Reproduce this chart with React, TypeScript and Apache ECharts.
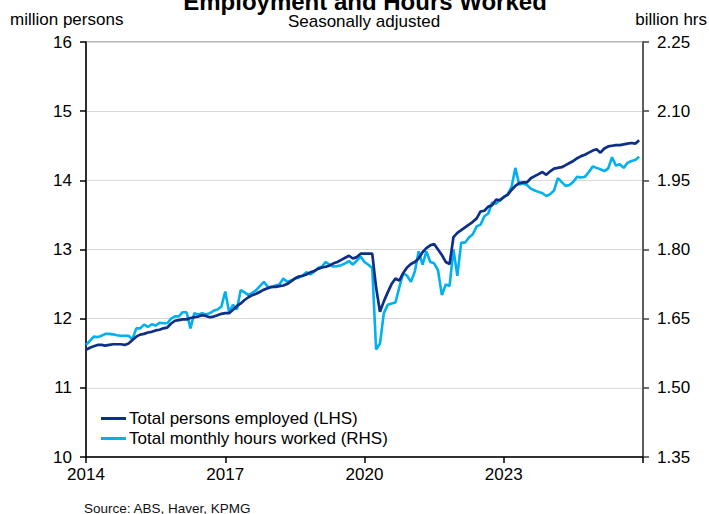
import React, { useEffect, useRef } from "react";
import * as echarts from "echarts";

// Monthly data, Jan 2014 .. Dec 2025
const xTickLabels = ["2014", "2017", "2020", "2023"];
const leftTicks = [10, 11, 12, 13, 14, 15, 16];
const rightTicks = ["1.35", "1.50", "1.65", "1.80", "1.95", "2.10", "2.25"];

// Total persons employed (million, LHS)
const employed: number[] = [
  11.55, 11.58, 11.6, 11.62, 11.62, 11.61, 11.62, 11.63, 11.63, 11.63, 11.62, 11.64,
  11.69, 11.74, 11.77, 11.78, 11.8, 11.81, 11.83, 11.84, 11.86, 11.87, 11.93, 11.97,
  11.98, 11.99, 11.99, 12.01, 12.02, 12.03, 12.05, 12.04, 12.02, 12.03, 12.05, 12.07,
  12.08, 12.08, 12.13, 12.18, 12.22, 12.27, 12.31, 12.34, 12.36, 12.39, 12.42, 12.44,
  12.46, 12.46, 12.47, 12.48, 12.5, 12.54, 12.58, 12.61, 12.62, 12.64, 12.67, 12.69,
  12.72, 12.74, 12.75, 12.77, 12.8, 12.82, 12.85, 12.88, 12.91, 12.87, 12.89, 12.94,
  12.94, 12.94, 12.94, 12.45, 12.1, 12.25, 12.38, 12.5, 12.58, 12.55, 12.66, 12.74,
  12.79, 12.82, 12.87, 12.96, 13.02, 13.06, 13.08, 13.0, 12.92, 12.82, 12.79, 13.18,
  13.24, 13.28, 13.32, 13.36, 13.4, 13.45, 13.55, 13.56, 13.62, 13.64, 13.72, 13.71,
  13.76, 13.79, 13.86, 13.92, 13.96, 13.97, 13.97, 14.03, 14.06, 14.09, 14.12, 14.08,
  14.13, 14.17, 14.18, 14.19, 14.22, 14.25, 14.28, 14.32, 14.35, 14.37, 14.4, 14.43,
  14.45, 14.4, 14.46, 14.49, 14.5, 14.51, 14.51, 14.52, 14.53, 14.54, 14.53, 14.58,
];

// Total monthly hours worked (billion hours, RHS)
const hours: number[] = [
  1.593, 1.602, 1.611, 1.61, 1.613, 1.617, 1.617, 1.616, 1.614, 1.613, 1.613, 1.613,
  1.605, 1.629, 1.629, 1.637, 1.632, 1.638, 1.635, 1.641, 1.64, 1.64, 1.65, 1.655,
  1.655, 1.664, 1.664, 1.629, 1.662, 1.659, 1.662, 1.659, 1.662, 1.667, 1.67, 1.676,
  1.709, 1.664, 1.68, 1.67, 1.712, 1.707, 1.701, 1.706, 1.712, 1.721, 1.73, 1.719,
  1.718, 1.722, 1.724, 1.737, 1.73, 1.733, 1.737, 1.739, 1.743, 1.751, 1.746, 1.752,
  1.76, 1.763, 1.773, 1.767, 1.763, 1.764, 1.766, 1.77, 1.775, 1.767, 1.776, 1.785,
  1.773, 1.767, 1.76, 1.583, 1.596, 1.662, 1.68, 1.683, 1.685, 1.718, 1.749, 1.743,
  1.73, 1.752, 1.796, 1.767, 1.796, 1.773, 1.77, 1.755, 1.701, 1.724, 1.721, 1.8,
  1.743, 1.815, 1.815, 1.826, 1.833, 1.85, 1.854, 1.872, 1.878, 1.902, 1.899, 1.908,
  1.913, 1.92, 1.935, 1.977, 1.941, 1.943, 1.94, 1.932, 1.928, 1.925, 1.922, 1.916,
  1.92, 1.928, 1.955, 1.946, 1.938, 1.94, 1.947, 1.958, 1.956, 1.958, 1.968, 1.98,
  1.977, 1.974, 1.97, 1.976, 2.0, 1.982, 1.985, 1.977, 1.988, 1.992, 1.994, 2.001,
];

const seriesNames = ["Total persons employed (LHS)", "Total monthly hours worked (RHS)"];
const colors = ["#0D2F87", "#00B0F0"];
const FONT = "'Liberation Sans', Arial, sans-serif";

export default function App() {
  const ref = useRef<HTMLDivElement>(null);

  useEffect(() => {
    if (!ref.current) return;
    const chart = echarts.init(ref.current, null, { renderer: "svg" });
    const monthsPerTick = 36;
    const option: any = {
      animation: false,
      backgroundColor: "#ffffff",
      textStyle: { fontFamily: FONT },
      grid: {
        left: 86,
        right: 66,
        top: 42,
        bottom: 57,
        show: true,
        borderColor: "#707070",
        borderWidth: 1,
        backgroundColor: "transparent",
      },
      legend: {
        orient: "vertical",
        left: 101,
        top: 410,
        itemWidth: 25,
        itemHeight: 3,
        itemGap: 3,
        icon: "rect",
        padding: 0,
        textStyle: { fontFamily: FONT, fontSize: 17, color: "#000", lineHeight: 17, padding: [0, 0, 0, -2] },
        data: seriesNames,
      },
      xAxis: {
        type: "value",
        min: 0,
        max: employed.length,
        interval: monthsPerTick,
        axisLine: { show: true, lineStyle: { color: "#000", width: 1.5 } },
        axisTick: { show: true, length: 6, lineStyle: { color: "#000", width: 1.5 } },
        axisLabel: {
          margin: 9,
          fontFamily: FONT,
          fontSize: 17,
          color: "#000",
          formatter: (v: number) => {
            const i = Math.round(v / monthsPerTick);
            return xTickLabels[i] ?? "";
          },
        },
        splitLine: { show: false },
      },
      yAxis: [
        {
          type: "value",
          min: leftTicks[0],
          max: leftTicks[leftTicks.length - 1],
          interval: 1,
          position: "left",
          axisLine: { show: true, lineStyle: { color: "#000", width: 1.5 } },
          axisTick: { show: true, length: 6, lineStyle: { color: "#000", width: 1.5 } },
          axisLabel: { margin: 14, fontFamily: FONT, fontSize: 17, color: "#000" },
          splitLine: { show: true, lineStyle: { color: "#d9d9d9", width: 1.2 } },
        },
        {
          type: "value",
          min: Number(rightTicks[0]),
          max: Number(rightTicks[rightTicks.length - 1]),
          interval: 0.15,
          position: "right",
          axisLine: { show: true, lineStyle: { color: "#404040", width: 1.5 } },
          axisTick: { show: true, length: 6, lineStyle: { color: "#404040", width: 1.5 } },
          axisLabel: {
            margin: 14,
            fontFamily: FONT,
            fontSize: 17,
            color: "#000",
            formatter: (v: number) => v.toFixed(2),
          },
          splitLine: { show: false },
        },
      ],
      series: [
        {
          name: seriesNames[0],
          type: "line",
          yAxisIndex: 0,
          data: employed.map((v, i) => [i, v]),
          showSymbol: false,
          symbol: "none",
          z: 3,
          lineStyle: { color: colors[0], width: 2.7 },
          itemStyle: { color: colors[0] },
        },
        {
          name: seriesNames[1],
          type: "line",
          yAxisIndex: 1,
          data: hours.map((v, i) => [i, v]),
          showSymbol: false,
          symbol: "none",
          z: 2,
          lineStyle: { color: colors[1], width: 2.6 },
          itemStyle: { color: colors[1] },
        },
      ],
      graphic: [
        {
          type: "text",
          x: 365,
          y: 1,
          style: {
            text: "Employment and Hours Worked",
            fontFamily: FONT,
            fontSize: 24,
            fontWeight: "bold",
            fill: "#000",
            align: "center",
            verticalAlign: "middle",
          },
        },
        {
          type: "text",
          x: 364,
          y: 21,
          style: {
            text: "Seasonally adjusted",
            fontFamily: FONT,
            fontSize: 17,
            fill: "#000",
            align: "center",
            verticalAlign: "middle",
          },
        },
        {
          type: "text",
          x: 10,
          y: 19,
          style: {
            text: "million persons",
            fontFamily: FONT,
            fontSize: 17,
            fill: "#000",
            align: "left",
            verticalAlign: "middle",
          },
        },
        {
          type: "text",
          x: 707,
          y: 19,
          style: {
            text: "billion hrs",
            fontFamily: FONT,
            fontSize: 17,
            fill: "#000",
            align: "right",
            verticalAlign: "middle",
          },
        },
        {
          type: "text",
          x: 84,
          y: 508,
          style: {
            text: "Source: ABS, Haver, KPMG",
            fontFamily: FONT,
            fontSize: 13.5,
            fill: "#111",
            align: "left",
            verticalAlign: "middle",
          },
        },
      ],
    };
    chart.setOption(option);
    return () => chart.dispose();
  }, []);

  return (
    <div
      ref={ref}
      style={{ position: "fixed", left: 0, top: 0, width: 709, height: 514, background: "#fff" }}
    />
  );
}
